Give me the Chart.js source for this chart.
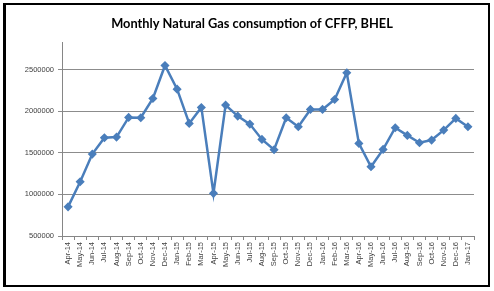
<!DOCTYPE html>
<html>
<head>
<meta charset="utf-8">
<script src="https://cdn.jsdelivr.net/npm/chart.js@4/dist/chart.umd.min.js"></script>
<style>
  html, body { margin: 0; padding: 0; background: #fff; }
  #wrap { position: relative; width: 494px; height: 291px; }
  #frame { position: absolute; left: 3px; top: 3px; width: 482px; height: 280px;
           border-left: 3px solid #000; border-top: 2px solid #000; border-right: 2px solid #000; border-bottom: 2px solid #000;
           pointer-events: none; }
</style>
</head>
<body>
<div id="wrap">
  <canvas id="c" width="494" height="291"></canvas>
  <div id="frame"></div>
</div>
<script>
const categories = ["Apr-14","May-14","Jun-14","Jul-14","Aug-14","Sep-14","Oct-14","Nov-14","Dec-14",
  "Jan-15","Feb-15","Mar-15","Apr-15","May-15","Jun-15","Jul-15","Aug-15","Sep-15","Oct-15","Nov-15","Dec-15",
  "Jan-16","Feb-16","Mar-16","Apr-16","May-16","Jun-16","Jul-16","Aug-16","Sep-16","Oct-16","Nov-16","Dec-16",
  "Jan-17"];
const consumption = [850000,1152000,1484000,1680000,1688000,1924000,1920000,2152000,2548000,
  2264000,1852000,2044000,1012000,2072000,1940000,1844000,1660000,1536000,1920000,1812000,2020000,
  2020000,2140000,2460000,1612000,1332000,1540000,1800000,1708000,1620000,1652000,1772000,1912000,
  1812000];
const yTicks = [500000,1000000,1500000,2000000,2500000];
const titleText = "Monthly Natural Gas consumption of CFFP, BHEL";

const titlePlugin = {
  id: 'titleText',
  afterDraw(chart) {
    const ctx = chart.ctx;
    ctx.save();
    ctx.font = 'bold 12.8px Lato';
    ctx.fillStyle = '#000';
    ctx.textAlign = 'center';
    ctx.textBaseline = 'middle';
    ctx.fillText(titleText, 252, 24);
    ctx.restore();
  }
};

new Chart(document.getElementById('c'), {
  type: 'line',
  data: {
    labels: categories,
    datasets: [{
      data: consumption,
      borderColor: '#4A7EBB',
      backgroundColor: '#4A7EBB',
      borderWidth: 2.5,
      pointStyle: 'rectRot',
      pointRadius: 2.8,
      pointBackgroundColor: '#4A7EBB',
      pointBorderColor: '#4A7EBB',
      tension: 0,
      fill: false
    }]
  },
  plugins: [titlePlugin],
  options: {
    responsive: false,
    animation: false,
    devicePixelRatio: 1,
    layout: { padding: { left: 0, right: 20, top: 42, bottom: 0 } },
    plugins: {
      legend: { display: false },
      tooltip: { enabled: false },
      title: { display: false }
    },
    scales: {
      x: {
        offset: true,
        afterFit: (s) => { s.height = 55; },
        grid: { offset: true, drawOnChartArea: false, drawTicks: true, tickLength: 4, color: '#868686' },
        border: { color: '#868686', width: 1 },
        ticks: {
          autoSkip: false, maxRotation: 90, minRotation: 90, padding: 2,
          color: '#404040', font: { family: 'Liberation Sans', size: 7.5 }
        }
      },
      y: {
        min: 500000,
        max: 2830000,
        afterFit: (s) => { s.width = 62; },
        afterBuildTicks: (s) => { s.ticks = yTicks.map(v => ({ value: v })); },
        grid: { color: '#8c8c8c', lineWidth: 1, tickLength: 4, drawTicks: true },
        border: { color: '#868686', width: 1 },
        ticks: {
          padding: 4, color: '#404040',
          font: { family: 'Liberation Sans', size: 7.5 },
          callback: (v) => String(v)
        }
      }
    }
  }
});
</script>
</body>
</html>
